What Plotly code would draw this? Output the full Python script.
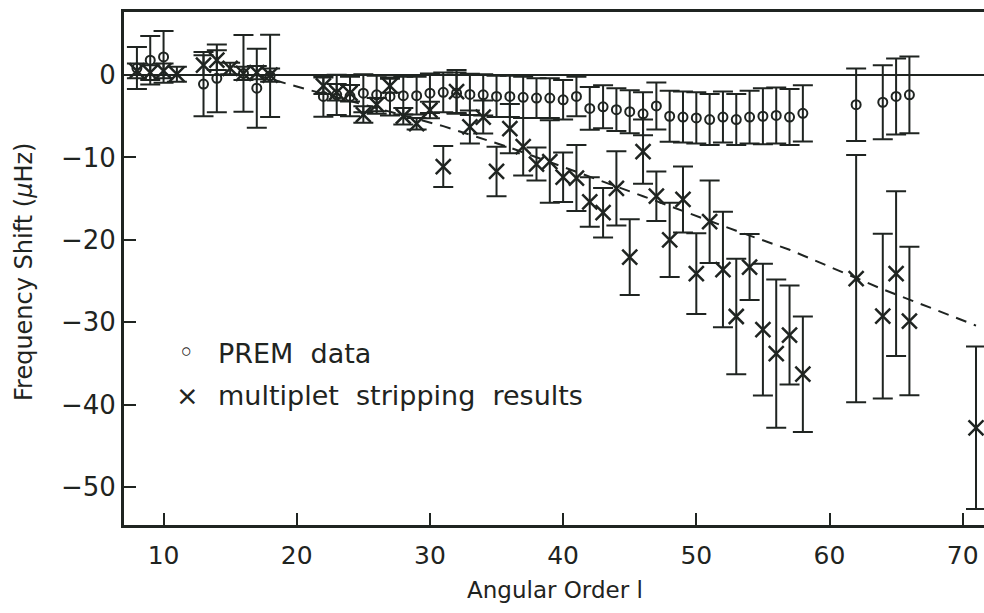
import plotly.graph_objects as go

# PREM reference frequency shifts (circles)
prem_l = [8, 9, 10, 13, 14, 16, 17, 18,
          22, 23, 24, 25, 26, 27, 28, 29, 30, 31, 32, 33, 34, 35, 36, 37,
          38, 39, 40, 41, 42, 43, 44, 45, 46, 47, 48, 49, 50, 51, 52, 53,
          54, 55, 56, 57, 58, 62, 64, 65, 66]
prem_shift = [0.85, 1.8, 2.2, -1.1, -0.4, 0.2, -1.6, -0.1,
              -2.6, -2.4, -2.6, -2.2, -2.4, -2.6, -2.5, -2.5, -2.2, -2.1, -2.2, -2.35, -2.4, -2.6, -2.6, -2.7,
              -2.8, -2.8, -3.0, -2.6, -4.05, -3.85, -4.2, -4.45, -4.7, -3.75, -5.0, -5.1, -5.2, -5.4, -5.1, -5.4,
              -5.1, -5.0, -4.9, -5.1, -4.65, -3.6, -3.3, -2.6, -2.4]
prem_err = [2.55, 2.95, 3.15, 3.9, 4.1, 4.65, 4.8, 5.0,
            2.45, 2.45, 2.4, 2.3, 2.3, 2.3, 2.3, 2.3, 2.4, 2.4, 2.5, 2.5, 2.5, 2.5, 2.5, 2.5,
            2.4, 2.4, 2.4, 2.4, 2.6, 2.6, 2.6, 2.6, 2.6, 2.85, 3.1, 3.1, 3.1, 3.1, 3.1, 3.1,
            3.2, 3.4, 3.4, 3.4, 3.4, 4.4, 4.5, 4.6, 4.65]

# Multiplet stripping results (crosses)
strip_l = [8, 9, 10, 11, 13, 14, 15, 16, 17, 18,
           22, 23, 24, 25, 26, 27, 28, 29, 30, 31, 32, 33, 34, 35, 36, 37,
           38, 39, 40, 41, 42, 43, 44, 45, 46, 47, 48, 49, 50, 51, 52, 53,
           54, 55, 56, 57, 58, 62, 64, 65, 66, 71]
strip_shift = [0.5, 0.3, 0.5, 0.1, 1.2, 1.8, 0.8, 0.2, 0.3, 0.0,
               -1.3, -2.1, -2.2, -4.8, -3.6, -1.3, -5.0, -5.9, -4.25, -11.1, -2.0, -6.3, -5.1, -11.7, -6.5, -8.7,
               -10.8, -10.5, -12.4, -12.5, -15.4, -16.7, -13.75, -22.1, -9.3, -14.7, -20.0, -15.1, -24.1, -17.8, -23.6, -29.3,
               -23.3, -30.9, -33.8, -31.55, -36.3, -24.7, -29.25, -24.1, -29.85, -42.8]
strip_err = [0.9, 0.9, 0.9, 0.9, 1.2, 1.2, 0.7, 0.8, 0.8, 0.8,
             1.0, 1.0, 1.0, 1.0, 0.8, 0.85, 1.0, 0.7, 1.0, 2.5, 2.6, 2.0, 2.0, 3.0, 3.0, 3.5,
             2.0, 5.0, 3.0, 4.0, 3.0, 3.0, 4.5, 4.6, 3.9, 3.0, 4.5, 4.0, 4.9, 5.0, 7.0, 7.0,
             4.0, 8.0, 9.0, 6.0, 7.0, 15.0, 10.0, 10.0, 9.0, 9.85]

# Predicted shift curve (dashed)
model_l = [17, 20, 31, 36, 46, 53, 57, 61, 64, 68, 71]
model_shift = [0.0, -1.4, -6.2, -8.8, -14.7, -18.9, -21.2, -23.9, -26.0, -28.5, -30.4]

y_ticks = [0, -10, -20, -30, -40, -50]
x_ticks = [10, 20, 30, 40, 50, 60, 70]

INK = "#1f2421"
FONT = "DejaVu Sans"

fig = go.Figure()

fig.add_trace(go.Scatter(
    x=model_l, y=model_shift, mode="lines",
    line=dict(color=INK, width=2, dash="11px,8px"),
    showlegend=False, hoverinfo="skip"))

fig.add_trace(go.Scatter(
    x=prem_l, y=prem_shift, mode="markers", name="PREM data",
    marker=dict(symbol="circle-open", size=9, color=INK, line=dict(width=2, color=INK)),
    error_y=dict(type="data", array=prem_err, visible=True, color=INK, thickness=2, width=10),
    showlegend=False))

fig.add_trace(go.Scatter(
    x=strip_l, y=strip_shift, mode="markers", name="multiplet stripping results",
    marker=dict(symbol="x-thin", size=15, color=INK, line=dict(width=2.5, color=INK)),
    error_y=dict(type="data", array=strip_err, visible=True, color=INK, thickness=2, width=10),
    showlegend=False))

# plot area in pixels: x 124..984, y 12..525
def px(xp):
    return (xp - 124) / 860.0

def py(yp):
    return (525 - yp) / 513.0

def note(xp, yp, text, size, xanchor="center", angle=0):
    return dict(x=px(xp), y=py(yp), xref="paper", yref="paper", text=text, showarrow=False,
                xanchor=xanchor, yanchor="middle", textangle=angle,
                font=dict(size=size, color=INK, family=FONT))

annotations = [
    note(186, 352, "◦", 28),
    note(216, 353, "PREM  data", 27, "left"),
    note(187, 395, "×", 27),
    note(216, 395, "multiplet  stripping  results", 27, "left"),
    note(555, 590, "Angular Order l", 23),
    note(24, 272, "Frequency Shift (<i>μ</i>Hz)", 24, angle=-90),
]

fig.update_layout(
    width=984, height=613,
    margin=dict(l=124, r=0, t=12, b=88),
    paper_bgcolor="white", plot_bgcolor="white",
    font=dict(family=FONT, color=INK, size=24),
    annotations=annotations,
    xaxis=dict(range=[7.03, 71.6], tickvals=x_ticks, ticks="inside", ticklen=12, tickwidth=2,
               tickcolor=INK, showline=True, linecolor=INK, linewidth=3, mirror=True,
               showgrid=False, zeroline=False, ticklabelstandoff=6,
               tickfont=dict(size=25, family=FONT, color=INK)),
    yaxis=dict(range=[-54.6, 7.65], tickvals=y_ticks, ticks="inside", ticklen=12, tickwidth=2,
               tickcolor=INK, showline=True, linecolor=INK, linewidth=3, mirror=False,
               showgrid=False, zeroline=True, zerolinecolor=INK, zerolinewidth=1.5,
               tickfont=dict(size=26, family=FONT, color=INK)),
)

fig.write_html("out.html")
